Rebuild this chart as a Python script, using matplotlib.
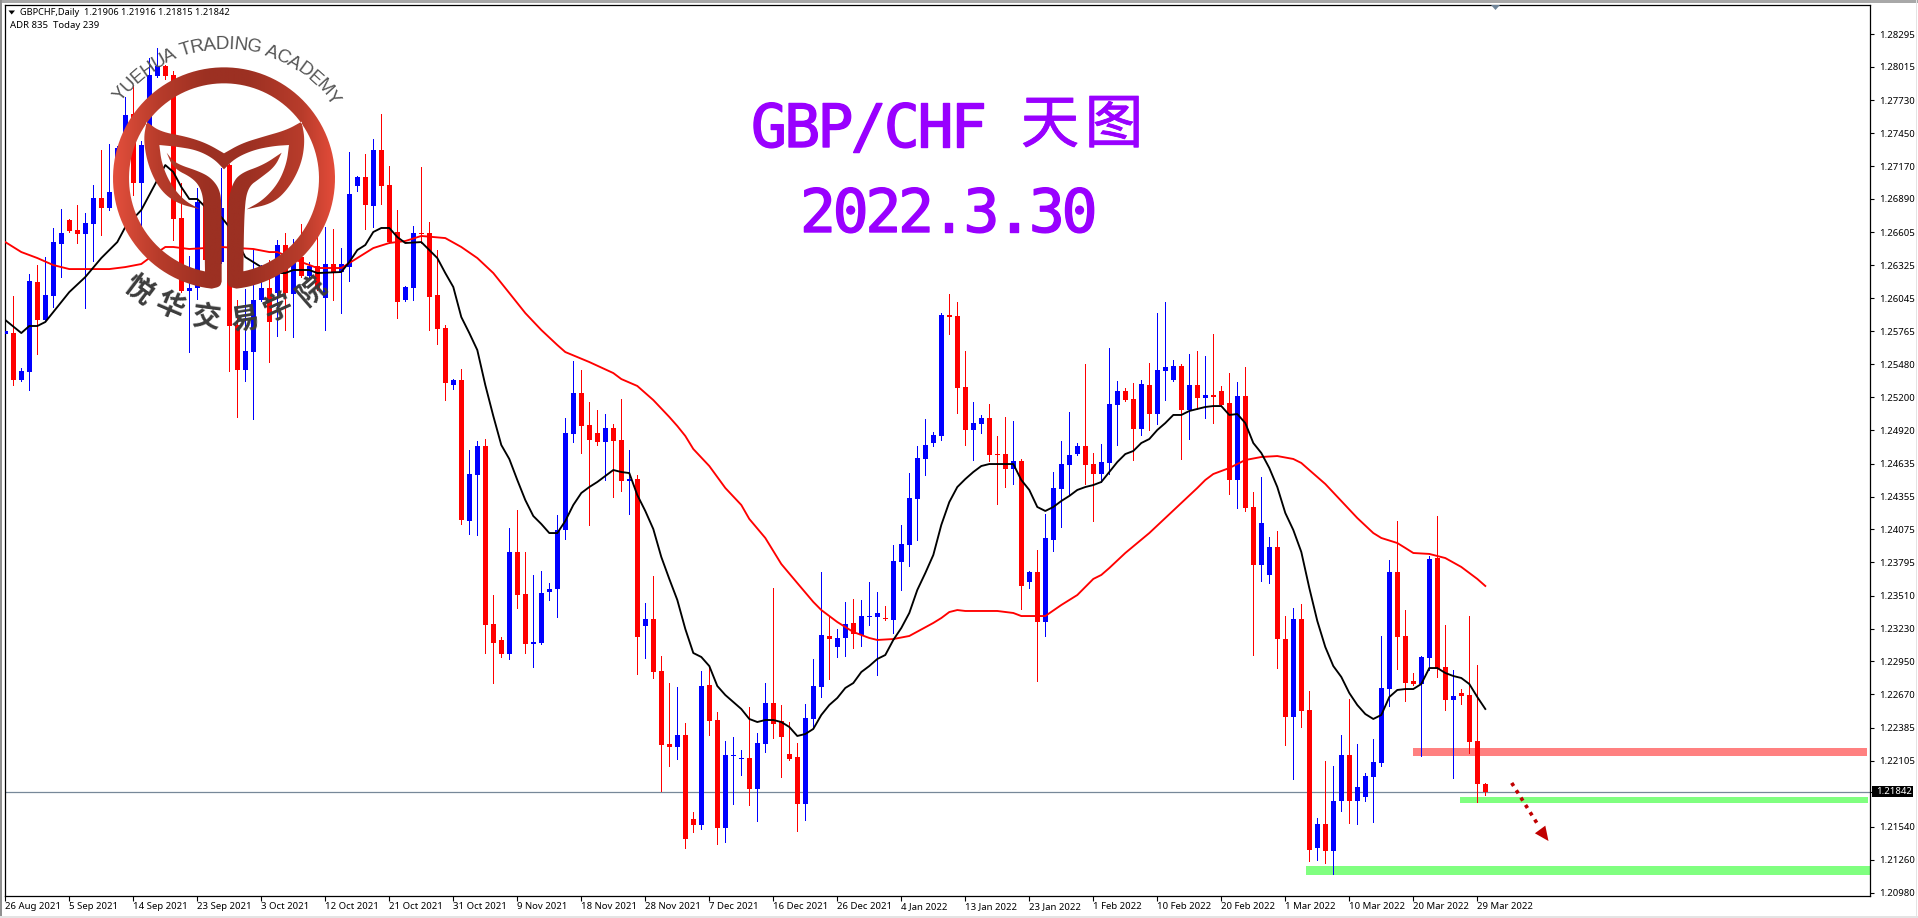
import numpy as np
import matplotlib
matplotlib.use("Agg")
import matplotlib.pyplot as plt
import matplotlib.patheffects as pe
from matplotlib.patches import Rectangle, Polygon, PathPatch
from matplotlib.path import Path
from matplotlib.colors import LinearSegmentedColormap

opens = [1.25740,1.25748,1.25347,1.25416,1.26182,1.25859,1.26063,1.26506,1.26711,1.26626,
1.26592,1.26677,1.26898,1.26813,1.26949,1.27324,1.27614,1.27026,1.27350,1.27938,
1.28023,1.27946,1.26728,1.26106,1.26132,1.26864,1.26370,1.26353,1.27179,1.25816,
1.25433,1.25586,1.26029,1.26132,1.26089,1.26498,1.26080,1.26395,1.26234,1.26319,
1.26046,1.26336,1.26268,1.26310,1.27000,1.27077,1.26830,1.27307,1.27009,1.26609,
1.26029,1.26132,1.26600,1.26600,1.26072,1.25791,1.25305,1.25347,1.24147,1.24538,
1.24786,1.23269,1.23133,1.23014,1.23883,1.23525,1.23099,1.23107,1.23542,1.23567,
1.24070,1.24888,1.25237,1.24964,1.24896,1.24820,1.24939,1.24837,1.24487,1.24504,
1.23252,1.23312,1.22869,1.22247,1.22221,1.22324,1.21608,1.21557,1.22749,1.22451,
1.21531,1.22145,1.22119,1.22128,1.21864,1.22247,1.22596,1.22443,1.22162,1.22136,
1.21736,1.22460,1.22733,1.23167,1.23073,1.23150,1.23278,1.23175,1.23329,1.23329,
1.23320,1.23303,1.23797,1.23942,1.24334,1.24675,1.24811,1.24871,1.25901,1.25893,
1.25288,1.24922,1.24973,1.25024,1.24717,1.24717,1.24590,1.24658,1.23627,1.23712,
1.23286,1.23985,1.24419,1.24624,1.24717,1.24786,1.24632,1.24547,1.24641,1.25135,
1.25254,1.25186,1.24930,1.25305,1.25058,1.25424,1.25347,1.25467,1.25092,1.25305,
1.25194,1.25220,1.25254,1.25152,1.24496,1.25211,1.24266,1.23772,1.23687,1.23925,
1.23141,1.22477,1.23312,1.22536,1.21361,1.21565,1.21335,1.21761,1.22153,1.21761,
1.21795,1.21966,1.22085,1.22715,1.23712,1.23167,1.22783,1.22758,1.22979,1.23831,
1.22903,1.22622,1.22681,1.22664,1.22272,1.21906]
highs = [1.26097,1.26063,1.25450,1.26251,1.26327,1.26395,1.26643,1.26804,1.26719,1.26838,
1.26770,1.27009,1.27307,1.27358,1.27341,1.27759,1.27861,1.27384,1.28091,1.28176,
1.28031,1.27980,1.27026,1.26404,1.26983,1.27094,1.27009,1.27154,1.27185,1.26029,
1.26123,1.26455,1.26327,1.26370,1.26540,1.26600,1.26549,1.26677,1.26353,1.26566,
1.26651,1.26634,1.26472,1.27290,1.27090,1.27273,1.27401,1.27614,1.27171,1.26796,
1.26149,1.26660,1.27162,1.26694,1.26455,1.25816,1.25356,1.25441,1.24751,1.24828,
1.24845,1.23516,1.23158,1.24087,1.24240,1.23883,1.23687,1.23721,1.23618,1.24198,
1.25024,1.25510,1.25433,1.25160,1.25092,1.25058,1.24973,1.25186,1.24751,1.24538,
1.23448,1.23678,1.22997,1.22766,1.22733,1.22426,1.21668,1.22869,1.22903,1.22519,
1.22272,1.22306,1.22196,1.22562,1.22341,1.22766,1.23576,1.22579,1.22434,1.22255,
1.22588,1.22971,1.23712,1.23329,1.23227,1.23457,1.23482,1.23474,1.23627,1.23542,
1.23422,1.23942,1.24113,1.24555,1.24786,1.25016,1.24905,1.25918,1.26080,1.26012,
1.25595,1.25160,1.25050,1.25143,1.24871,1.25033,1.24998,1.24675,1.23720,1.23900,
1.24206,1.24564,1.24828,1.25075,1.24811,1.25484,1.24726,1.24803,1.25620,1.25339,
1.25280,1.25322,1.25347,1.25493,1.25918,1.26012,1.25518,1.25484,1.25569,1.25595,
1.25552,1.25740,1.25297,1.25407,1.25331,1.25458,1.24394,1.24521,1.24010,1.24061,
1.23337,1.23405,1.23440,1.22698,1.21616,1.22102,1.22059,1.22324,1.22630,1.22247,
1.21999,1.22289,1.23167,1.23814,1.24147,1.23388,1.22852,1.22995,1.23848,1.24189,
1.23261,1.22877,1.22715,1.23337,1.22920,1.21916]
lows = [1.25671,1.25305,1.25340,1.25262,1.25569,1.25850,1.25969,1.26225,1.26610,1.26515,
1.25961,1.26361,1.26583,1.26796,1.26924,1.27300,1.26924,1.26651,1.27307,1.27930,
1.27912,1.26540,1.26100,1.25586,1.26038,1.26353,1.26327,1.26345,1.25424,1.25033,
1.25339,1.25016,1.26020,1.25501,1.25723,1.25774,1.25714,1.26225,1.26225,1.26114,
1.25774,1.26029,1.25918,1.26191,1.26958,1.26634,1.26651,1.26847,1.26515,1.25876,
1.26021,1.26029,1.26515,1.25774,1.25654,1.25177,1.25271,1.24121,1.24036,1.24027,
1.23022,1.22766,1.22988,1.22971,1.23405,1.23022,1.22903,1.23100,1.23474,1.23329,
1.23993,1.24820,1.24726,1.24113,1.24794,1.24496,1.24351,1.24402,1.24206,1.22843,
1.22979,1.22809,1.21846,1.22059,1.22119,1.21361,1.21497,1.21523,1.22324,1.21395,
1.21412,1.21736,1.21983,1.21727,1.21591,1.22179,1.22298,1.21966,1.22110,1.21506,
1.21599,1.22383,1.22647,1.22801,1.22988,1.22997,1.23065,1.23082,1.23261,1.22835,
1.23303,1.23192,1.23559,1.23763,1.23985,1.24538,1.24786,1.24837,1.25740,1.25067,
1.24794,1.24666,1.24896,1.24658,1.24291,1.24436,1.24462,1.23397,1.23576,1.22783,
1.23167,1.23891,1.24096,1.24377,1.24709,1.24462,1.24147,1.24479,1.24547,1.24794,
1.25170,1.24666,1.24879,1.24922,1.24973,1.25177,1.25339,1.24675,1.24845,1.25101,
1.25024,1.24981,1.25130,1.24377,1.24257,1.24232,1.23005,1.23635,1.23618,1.22894,
1.22238,1.21949,1.22392,1.21250,1.21259,1.21233,1.21140,1.21676,1.21574,1.21565,
1.21761,1.21582,1.22059,1.22571,1.22886,1.22613,1.22750,1.22145,1.22877,1.22818,
1.22536,1.21957,1.22588,1.22170,1.21753,1.21815]
closes = [1.25765,1.25347,1.25424,1.26191,1.25859,1.26072,1.26523,1.26600,1.26617,1.26592,
1.26685,1.26898,1.26813,1.26949,1.27324,1.27605,1.27026,1.27350,1.27946,1.28023,
1.27938,1.26719,1.26106,1.26132,1.26864,1.26370,1.26796,1.26813,1.25808,1.25433,
1.25595,1.26029,1.26132,1.25842,1.26498,1.26089,1.26344,1.26234,1.26319,1.26132,
1.26336,1.26268,1.26336,1.26932,1.27077,1.26838,1.27307,1.27000,1.26523,1.26012,
1.26140,1.26600,1.26592,1.26055,1.25782,1.25322,1.25347,1.24155,1.24547,1.24786,
1.23261,1.23107,1.23014,1.23883,1.23516,1.23099,1.23116,1.23533,1.23567,1.24070,
1.24896,1.25237,1.24956,1.24837,1.24820,1.24939,1.24828,1.24487,1.24504,1.23158,
1.23312,1.22860,1.22238,1.22221,1.22324,1.21438,1.21557,1.22741,1.22443,1.21531,
1.22153,1.22153,1.22128,1.21864,1.22255,1.22596,1.22417,1.22306,1.22119,1.21736,
1.22468,1.22741,1.23175,1.23141,1.23150,1.23269,1.23184,1.23337,1.23337,1.23363,
1.23312,1.23806,1.23951,1.24343,1.24683,1.24794,1.24879,1.25901,1.25884,1.25280,
1.24922,1.24981,1.25024,1.24709,1.24709,1.24590,1.24658,1.23593,1.23712,1.23286,
1.24002,1.24428,1.24632,1.24709,1.24786,1.24624,1.24547,1.24649,1.25143,1.25254,
1.25177,1.24930,1.25314,1.25058,1.25433,1.25458,1.25467,1.25092,1.25305,1.25194,
1.25220,1.25203,1.25135,1.24496,1.25211,1.24257,1.23772,1.24130,1.23925,1.23141,
1.22477,1.23312,1.22528,1.21344,1.21565,1.21335,1.21761,1.22153,1.21761,1.21881,
1.21974,1.22094,1.22724,1.23712,1.23158,1.22766,1.22758,1.22988,1.23823,1.22886,
1.22622,1.22656,1.22656,1.22264,1.21906,1.21842]

black_idx = [0,2,3,4,5,6,8,10,12,14,15,17,18,20,21,22,23,24,25,27,28,30,32,34,35,36,38,39,42,43,44,45,46,47,48,49,50,52,53,54,55,56,57,58,59,60,61,62,63,64,65,66,67,68,69,70,71,72,73,74,75,76,77,78,79,80,81,82,83,84,85,86,87,88,89,90,91,92,93,94,95,96,97,98,99,100,101,102,103,104,105,106,107,108,109,110,111,112,113,114,115,116,117,118,119,120,121,122,123,124,125,126,127,128,129,130,131,132,133,134,135,136,137,138,139,140,141,142,143,144,145,146,147,148,149,150,151,152,153,154,155,156,157,158,159,160,161,162,163,164,165,166,167,168,169,170,171,172,173,174,175,176,177,178,179,180,181,182,183,184,185]
black_ma = [1.25859,1.25748,1.25808,1.25808,1.25842,1.25927,1.26097,1.26225,1.26387,1.26523,1.26651,1.26796,1.26924,1.27179,1.27120,1.26992,1.26890,1.26890,1.26822,1.26736,1.26651,1.26395,1.26310,1.26259,1.26259,1.26285,1.26285,1.26259,1.26268,1.26353,1.26455,1.26498,1.26609,1.26643,1.26643,1.26566,1.26515,1.26523,1.26455,1.26387,1.26259,1.26140,1.25884,1.25748,1.25603,1.25305,1.25041,1.24794,1.24675,1.24496,1.24325,1.24189,1.24121,1.24044,1.24044,1.24147,1.24283,1.24385,1.24436,1.24479,1.24530,1.24581,1.24564,1.24555,1.24368,1.24232,1.24078,1.23840,1.23653,1.23474,1.23227,1.23022,1.22988,1.22911,1.22741,1.22664,1.22605,1.22545,1.22460,1.22434,1.22451,1.22451,1.22434,1.22392,1.22315,1.22332,1.22375,1.22494,1.22579,1.22639,1.22724,1.22766,1.22860,1.22911,1.22971,1.23005,1.23133,1.23235,1.23363,1.23559,1.23703,1.23857,1.24113,1.24308,1.24436,1.24504,1.24564,1.24615,1.24632,1.24632,1.24632,1.24632,1.24496,1.24411,1.24266,1.24232,1.24266,1.24317,1.24360,1.24411,1.24436,1.24453,1.24479,1.24564,1.24649,1.24717,1.24743,1.24811,1.24845,1.24922,1.24981,1.25050,1.25050,1.25084,1.25101,1.25118,1.25126,1.25126,1.25050,1.25058,1.24981,1.24811,1.24726,1.24598,1.24436,1.24215,1.24070,1.23883,1.23576,1.23295,1.23073,1.22911,1.22818,1.22681,1.22579,1.22502,1.22460,1.22494,1.22647,1.22707,1.22715,1.22715,1.22758,1.22894,1.22894,1.22852,1.22826,1.22809,1.22758,1.22647,1.22545]
red_idx = [0,2,4,6,8,10,13,15,17,18,20,21,23,25,27,31,33,34,37,39,42,44,46,48,50,52,55,57,59,61,63,65,67,69,70,73,76,77,79,81,83,84,85,86,88,90,92,93,95,97,99,101,102,104,106,108,109,111,113,116,117,118,119,120,124,126,127,130,132,134,136,137,138,140,143,145,147,149,150,151,153,155,157,159,161,162,163,165,167,169,171,172,174,175,176,178,180,182,184,185]
red_ma = [1.26523,1.26438,1.26387,1.26327,1.26293,1.26293,1.26293,1.26310,1.26336,1.26387,1.26481,1.26481,1.26464,1.26472,1.26481,1.26464,1.26438,1.26438,1.26353,1.26302,1.26302,1.26387,1.26472,1.26515,1.26532,1.26575,1.26557,1.26481,1.26387,1.26259,1.26089,1.25918,1.25774,1.25646,1.25586,1.25501,1.25407,1.25356,1.25297,1.25177,1.25033,1.24956,1.24871,1.24760,1.24615,1.24428,1.24283,1.24164,1.24002,1.23780,1.23618,1.23457,1.23388,1.23286,1.23201,1.23150,1.23133,1.23141,1.23167,1.23278,1.23320,1.23371,1.23388,1.23380,1.23380,1.23363,1.23337,1.23337,1.23431,1.23516,1.23653,1.23687,1.23746,1.23874,1.24044,1.24172,1.24300,1.24428,1.24496,1.24547,1.24598,1.24666,1.24692,1.24700,1.24675,1.24641,1.24581,1.24462,1.24317,1.24172,1.24044,1.24002,1.23959,1.23917,1.23874,1.23866,1.23831,1.23755,1.23653,1.23593]

y_ticks = [1.28295,1.28015,1.27730,1.27450,1.27170,1.26890,1.26605,1.26325,1.26045,1.25765,1.25480,1.25200,1.24920,1.24635,1.24355,1.24075,1.23795,1.23510,1.23230,1.22950,1.22670,1.22385,1.22105,1.21540,1.21260,1.20980]
x_labels = ["26 Aug 2021","5 Sep 2021","14 Sep 2021","23 Sep 2021","3 Oct 2021","12 Oct 2021","21 Oct 2021","31 Oct 2021","9 Nov 2021","18 Nov 2021","28 Nov 2021","7 Dec 2021","16 Dec 2021","26 Dec 2021","4 Jan 2022","13 Jan 2022","23 Jan 2022","1 Feb 2022","10 Feb 2022","20 Feb 2022","1 Mar 2022","10 Mar 2022","20 Mar 2022","29 Mar 2022"]
last_price = 1.21842
resistance_zone = (1.22145, 1.22213)
support_zone_near = (1.21744, 1.21795)
support_zone_far = (1.21131, 1.21207)

W, H = 1918, 918
UI = "Noto Sans"
fig = plt.figure(figsize=(W/100, H/100), dpi=100, facecolor="white")
L, R, T, B = 4.6, 1870.0, 4.5, 895.5
ax = fig.add_axes([L/W, (H-B)/H, (R-L)/W, (B-T)/H])
ax.set_xlim((L-5.3)/8, (R-5.3)/8)
ax.set_ylim(1.20956, 1.28547)
for s in ax.spines.values():
    s.set_linewidth(0.9)
    s.set_color("black")

o, h, l, c = map(np.array, (opens, highs, lows, closes))
x = np.arange(len(o))
up = c >= o
colors = np.where(up, "#0000ff", "#ff0000")

ax.axhline(last_price, color="#778899", lw=0.9, zorder=1)
xmax = ax.get_xlim()[1]
for (lo, hi), start, col in [(resistance_zone, 176.0, "#ff8080"),
                             (support_zone_near, 181.8, "#80ff80"),
                             (support_zone_far, 162.6, "#80ff80")]:
    end = xmax - 0.4 if col == "#ff8080" else xmax - (0.3 if start > 170 else 0)
    ax.add_patch(Rectangle((start, lo), end-start, hi-lo, fc=col, ec="none", zorder=1.5))

ax.vlines(x, l, h, colors=colors, lw=0.72, zorder=2, antialiased=False)
ax.bar(x, np.maximum(np.abs(c-o), 0.00012), bottom=np.minimum(o, c), width=0.625,
       color=colors, lw=0, zorder=3, antialiased=False)
ax.plot(red_idx, red_ma, color="#ff0000", lw=1.35, zorder=4)
ax.plot(black_idx, black_ma, color="#000000", lw=1.35, zorder=4)

# forecast arrow
ax.plot([188.3, 191.6], [1.21915, 1.21557], color="#c00000", lw=2.6,
        ls=(0, (1, 1.4)), zorder=5)
ax.add_patch(Polygon([(191.2, 1.21486), (192.5, 1.21551), (192.9, 1.21420)],
                     fc="#c00000", ec="none", zorder=5))

ax.yaxis.tick_right()
ax.set_yticks(y_ticks + [last_price])
ax.set_yticklabels([f"{v:.5f}" for v in y_ticks] + [""], family=UI, fontsize=6.9)
ax.tick_params(axis="y", length=3, width=0.8, pad=3.5)
ax.set_xticks(x[::8])
ax.set_xticklabels(x_labels, family=UI, fontsize=6.9, ha="left")
ax.tick_params(axis="x", length=3.5, width=0.8, pad=1)

# overlay in pixel space: chrome, header, title, logo
ov = fig.add_axes([0, 0, 1, 1], zorder=10)
ov.patch.set_alpha(0)
ov.axis("off")

for rect, col in [((0, 0, W, 2.5), "#a8a8a8"), ((0, 0, 1.8, H), "#909090"),
                  ((W-2.5, 0, 1.5, H-1), "#e4e4e4"), ((0, H-2, W, 1.5), "#e4e4e4")]:
    ov.add_patch(Rectangle(rect[:2], rect[2], rect[3], fc=col, ec="none"))

ov.add_patch(Rectangle((1872, 786), 41, 11, fc="black", ec="none"))
ov.text(1876.5, 791.6, f"{last_price:.5f}", color="white", family=UI, fontsize=6.9,
        ha="left", va="center")

ov.add_patch(Polygon([(8.5, 10.5), (15, 10.5), (11.7, 14.5)], fc="black", ec="none"))
ov.text(20, 12.5, "GBPCHF,Daily  1.21906 1.21916 1.21815 1.21842", family=UI, fontsize=6.65,
        color="black", va="center", ha="left")
ov.text(10, 25.5, "ADR 835  Today 239", family=UI, fontsize=6.9, color="black",
        va="center", ha="left")
ov.add_patch(Polygon([(1491, 5), (1500, 5), (1495.5, 10)], fc="#6f8498", ec="none"))

# title, set in fixed cells
PURPLE = "#9900ff"
thick = [pe.withStroke(linewidth=1.0, foreground=PURPLE)]
for k, ch in enumerate("GBP/CHF"):
    ov.text(769 + 33.2*k, 147, ch, family="DejaVu Sans Mono", fontsize=43, color=PURPLE,
            ha="center", va="baseline", path_effects=thick)
for k, ch in enumerate("2022.3.30"):
    ov.text(818 + 32.7*k, 232, ch, family="DejaVu Sans Mono", fontsize=43, color=PURPLE,
            ha="center", va="baseline", path_effects=thick)
for ch, px in zip("天图", (1050, 1114)):
    ov.text(px, 126, ch, family="Noto Sans CJK SC", fontsize=42, color=PURPLE,
            ha="center", va="center", path_effects=[pe.withStroke(linewidth=0.6, foreground=PURPLE)])

# logo (coordinates given in 3x crop space, divided by 3)
cx, cy, Ro, Ri = 672.0, 535.0, 333.0, 285.0
def arc(r, a0, a1, n=120):
    a = np.radians(np.linspace(a0, a1, n))
    return np.c_[cx + r*np.sin(a), cy - r*np.cos(a)]
def chaikin(pts, it=3):
    p = np.array(pts, float)
    for _ in range(it):
        q = 0.75*p[:-1] + 0.25*p[1:]
        r = 0.25*p[:-1] + 0.75*p[1:]
        mid = np.empty((2*len(q), 2))
        mid[0::2], mid[1::2] = q, r
        p = np.vstack([p[0], mid, p[-1]])
    return p
a_in = np.degrees(np.arcsin((672-615)/285.0))
a_out = np.degrees(np.arcsin((672-635)/333.0))
ring = np.vstack([
    chaikin([(665,845),(665,620),(660,570),(635,535),(600,515),(525,490),(500,458)]),
    chaikin([(500,458),(520,505),(580,535),(605,570),(612,620),(615,815)]),
    arc(Ri, 180+a_in, 540-a_in),
    chaikin([(730,815),(733,620),(745,560),(780,535),(825,500),(845,458)]),
    chaikin([(845,458),(790,495),(720,520),(695,555),(682,620),(682,845)]),
    chaikin([(682,845),(686,860),(710,866)]),
    arc(Ro, 180-a_out, -180+a_out),
    chaikin([(635,866),(660,860),(665,845)]),
])
wing = np.vstack([
    chaikin([(440,365),(480,395),(560,410),(620,430),(672,460)]),
    chaikin([(672,460),(725,430),(790,410),(860,390),(905,365)]),
    chaikin([(905,365),(915,420),(905,490),(870,560),(820,610),(740,628)]),
    chaikin([(740,628),(790,600),(835,550),(860,490),(867,435)]),
    chaikin([(867,435),(820,438),(760,450),(705,475),(672,508)]),
    chaikin([(672,508),(640,475),(590,450),(530,440),(478,435)]),
    chaikin([(478,435),(485,490),(510,550),(550,600),(600,628)]),
    chaikin([(600,628),(530,610),(480,570),(445,500),(430,420),(440,365)]),
])
def closed(p):
    p = np.vstack([p, p[0]])/3.0
    codes = [Path.MOVETO] + [Path.LINETO]*(len(p)-2) + [Path.CLOSEPOLY]
    return Path(p, codes)
logo_path = Path.make_compound_path(closed(ring), closed(wing))
cmap = LinearSegmentedColormap.from_list("logo", [(0, "#e34f3c"), (0.2, "#b83c2b"),
        (0.42, "#9c3022"), (0.6, "#9c3022"), (0.85, "#b83c2b"), (1, "#e54c3a")])
im = ov.imshow(np.linspace(0, 1, 256)[None, :], extent=[113, 336, 300, 60], aspect="auto",
               cmap=cmap, zorder=6)
im.set_clip_path(PathPatch(logo_path, transform=ov.transData))

# arc text, spaced by Arial-like advance widths
arc_text = "YUEHUA TRADING ACADEMY"
adv = {"A":.667,"C":.722,"D":.722,"E":.667,"G":.778,"H":.722,"I":.278,"M":.833,"N":.722,
       "R":.722,"T":.611,"U":.722,"Y":.667," ":.278}
wt = np.array([adv[ch] for ch in arc_text])
edges = np.r_[0, np.cumsum(wt)]
mid = (edges[:-1] + edges[1:]) / 2 / edges[-1]
for ch, m in zip(arc_text, mid):
    th = np.radians(-54 + 110*m)
    ov.text(225 + 129*np.sin(th), 178 - 129*np.cos(th), ch, rotation=-np.degrees(th),
            rotation_mode="anchor", ha="center", va="baseline", family="Liberation Sans",
            fontsize=13.5, color="#555555", zorder=7)
for ch, px, py, rot in zip("悦华交易学院",
                           [415, 510, 620, 733, 835, 935], [870, 920, 955, 960, 925, 875],
                           [-37, -23, -7.5, 8.6, 24, 41]):
    ov.text(px/3, py/3, ch, rotation=rot, rotation_mode="anchor", ha="center", va="center",
            family="Noto Sans CJK SC", fontweight="bold", fontsize=20.5, color="#3c3c3c", zorder=7)

ov.set_xlim(0, W)
ov.set_ylim(H, 0)
fig.savefig("out.png", dpi=100)
